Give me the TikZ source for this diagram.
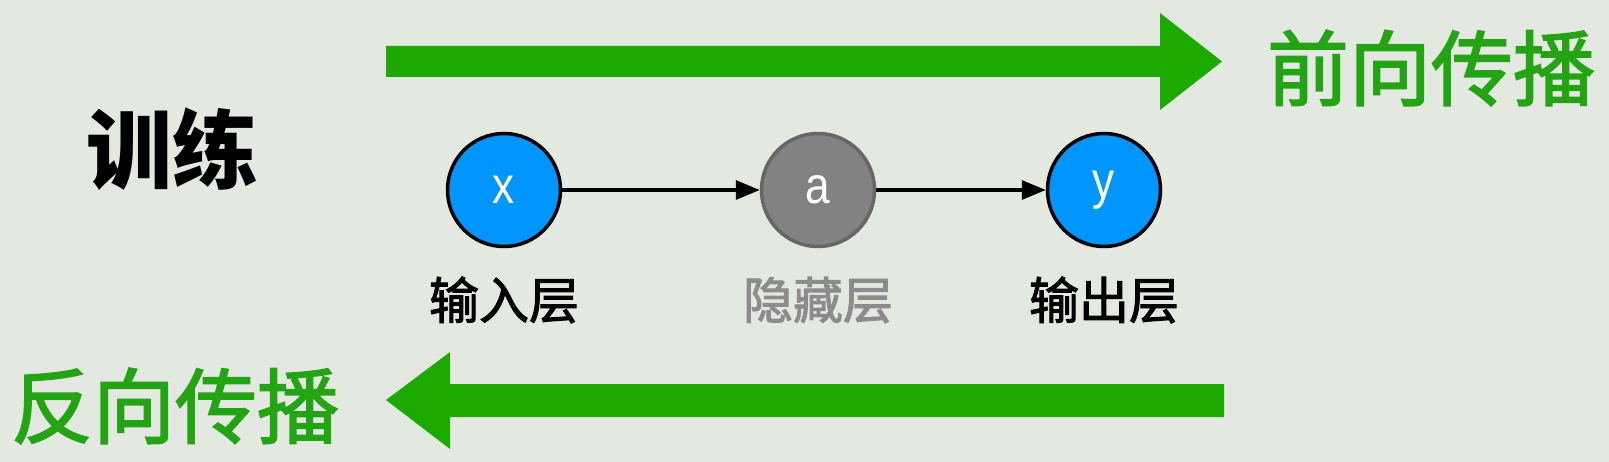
\documentclass[tikz,border=0pt]{standalone}
\usepackage{fontspec}
\setsansfont{Liberation Sans}[FakeStretch=0.85]
\newfontfamily\cjk{Noto Sans CJK SC}[FakeBold=2]
\newfontfamily\cjkb{Noto Sans CJK SC}
\usetikzlibrary{arrows.meta}
\definecolor{bg}{HTML}{E3E9E1}
\definecolor{bigg}{HTML}{1DAA00}
\definecolor{txtg}{HTML}{24A414}
\definecolor{nblue}{HTML}{0095FF}
\definecolor{ngray}{HTML}{828282}
\definecolor{lgray}{HTML}{8C8C8C}
\tikzset{
  neuron/.style={circle, minimum size=113pt, inner sep=0pt, line width=3.5pt, draw=black,
    text=white, font=\sffamily\fontsize{52}{52}\selectfont},
  layerlab/.style={font=\cjk\fontsize{50}{50}\selectfont, anchor=center},
  biglab/.style={font=\cjk\fontsize{82}{82}\selectfont, text=txtg, anchor=center},
  link/.style={line width=3.2pt, -{Triangle[length=24pt,width=19pt]}},
}
\begin{document}
\begin{tikzpicture}[x=1pt,y=-1pt]
\fill[bg] (0,0) rectangle (1609,462);
\useasboundingbox (0,0) rectangle (1609,462);
% big arrows
\fill[bigg] (386,46) -- (1160,46) -- (1160,13) -- (1222,61.5) -- (1160,110) -- (1160,77) -- (386,77) -- cycle;
\fill[bigg] (1224,384) -- (450,384) -- (450,352) -- (386,400) -- (450,449) -- (450,417) -- (1224,417) -- cycle;
% labels
\node[biglab] (fwd) at (1431,68) {前向传播};
\node[biglab] (bwd) at (175,406) {反向传播};
\node[font=\cjkb\bfseries\fontsize{86}{86}\selectfont, text=black] (train) at (172,149) {训练};
% neurons
\node[neuron, fill=nblue] (x) at (504,190) {x};
\node[neuron, fill=ngray, draw=black!60] (a) at (818,190) {a};
\node[neuron, fill=nblue] (y) at (1104,190) {y};
\draw[link] (x) -- (a);
\draw[link] (a) -- (y);
\node[layerlab] (lx) at (504,300) {输入层};
\node[layerlab, text=lgray] (la) at (818,300) {隐藏层};
\node[layerlab] (ly) at (1104,300) {输出层};
\end{tikzpicture}
\end{document}
